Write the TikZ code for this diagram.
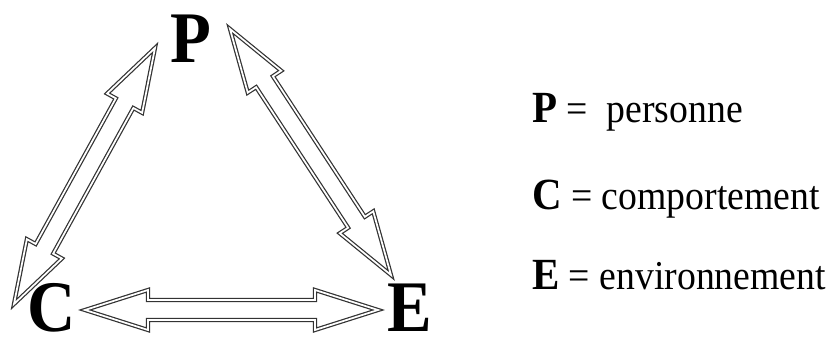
\documentclass[tikz,border=0pt]{standalone}
\usepackage{fontspec}
\setmainfont{Liberation Serif}
\usetikzlibrary{calc}

% hollow two-headed arrow between two named points
\newcommand\twoway[2]{%
  \draw[blockarrow] (#1)
    -- ($(#1)!1.89cm!(#2)!0.6cm!90:(#2)$)
    -- ($(#1)!1.89cm!(#2)!0.3cm!90:(#2)$)
    -- ($(#2)!1.89cm!(#1)!0.3cm!-90:(#1)$)
    -- ($(#2)!1.89cm!(#1)!0.6cm!-90:(#1)$)
    -- (#2)
    -- ($(#2)!1.89cm!(#1)!0.6cm!90:(#1)$)
    -- ($(#2)!1.89cm!(#1)!0.3cm!90:(#1)$)
    -- ($(#1)!1.89cm!(#2)!0.3cm!-90:(#2)$)
    -- ($(#1)!1.89cm!(#2)!0.6cm!-90:(#2)$)
    -- cycle;}

\begin{document}
\begin{tikzpicture}[x=0.03cm, y=0.03cm,
  blockarrow/.style={draw=black!80, double=white, double distance=1.5pt,
    line width=1.05pt, line join=miter},
  bigletter/.style={font=\fontsize{62}{62}\selectfont\bfseries,
    inner sep=0pt, anchor=base, xscale=0.92},
  keyline/.style={font=\fontsize{35}{40}\selectfont,
    inner sep=0pt, anchor=base west, xscale=0.92}]
  \useasboundingbox (0,0) rectangle (827,338);

  \node[bigletter] (P) at (191,275) {P};
  \node[bigletter] (C) at (52,6) {C};
  \node[bigletter] (E) at (410,6) {E};

  \coordinate (CPa) at (14,34);
  \coordinate (CPb) at (155,290);
  \coordinate (PEa) at (230,309);
  \coordinate (PEb) at (391,63);
  \coordinate (CEa) at (85,28);
  \coordinate (CEb) at (378,28);

  \twoway{CPa}{CPb}
  \twoway{PEa}{PEb}
  \twoway{CEa}{CEb}

  \node[keyline] (keyP) at (532,215) {{\fontsize{38}{40}\selectfont\bfseries P} =\ \ personne};
  \node[keyline] (keyC) at (532,128) {{\fontsize{38}{40}\selectfont\bfseries C} = comportement};
  \node[keyline] (keyE) at (532,48) {{\fontsize{38}{40}\selectfont\bfseries E} = environnement};
\end{tikzpicture}
\end{document}
